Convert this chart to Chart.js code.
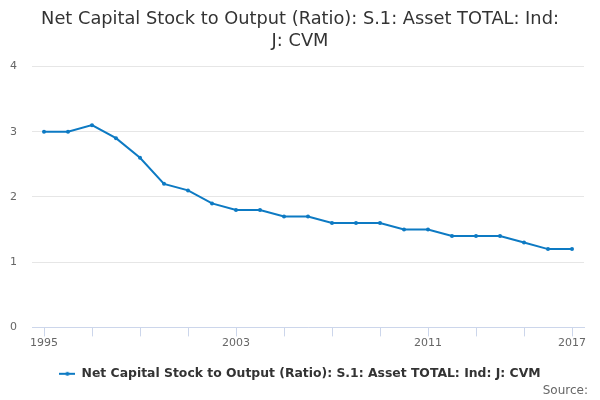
<!DOCTYPE html>
<html lang="en">
<head>
    <meta charset="UTF-8">
    <title>Net Capital Stock to Output</title>
    <script src="https://cdn.jsdelivr.net/npm/chart.js"></script>
    <style>
        body { margin: 0; background: #fff; }
        #wrap { width: 600px; height: 400px; }
    </style>
</head>
<body>
    <div id="wrap"><canvas id="myChart"></canvas></div>
    <script>
        const years = ['1995','1996','1997','1998','1999','2000','2001','2002','2003','2004','2005','2006',
                       '2007','2008','2009','2010','2011','2012','2013','2014','2015','2016','2017'];
        const ratio = [3.0, 3.0, 3.1, 2.9, 2.6, 2.2, 2.1, 1.9, 1.8, 1.8, 1.7, 1.7,
                       1.6, 1.6, 1.6, 1.5, 1.5, 1.4, 1.4, 1.4, 1.3, 1.2, 1.2];
        const shownYears = ['1995', '2003', '2011', '2017'];
        const yTicks = [0, 1, 2, 3, 4];
        const seriesName = 'Net Capital Stock to Output (Ratio): S.1: Asset TOTAL: Ind: J: CVM';
        const sourceText = 'Source:';

        const blue = '#0d7ac3';
        const font = 'DejaVu Sans';

        // little line-with-dot symbol for the legend
        const sym = document.createElement('canvas');
        sym.width = 16; sym.height = 6;
        const sc = sym.getContext('2d');
        sc.strokeStyle = blue; sc.lineWidth = 2;
        sc.beginPath(); sc.moveTo(0, 3); sc.lineTo(16, 3); sc.stroke();
        sc.fillStyle = blue;
        sc.beginPath(); sc.arc(8, 3, 2, 0, Math.PI * 2); sc.fill();

        // "Source:" credit in the bottom right corner
        const creditPlugin = {
            id: 'credit',
            afterDraw(chart) {
                const c = chart.ctx;
                c.save();
                c.font = '12px "' + font + '"';
                c.fillStyle = '#666666';
                c.textAlign = 'right';
                c.textBaseline = 'middle';
                c.fillText(sourceText, chart.width - 12, chart.height - 9);
                c.restore();
            }
        };

        const ctx = document.getElementById('myChart').getContext('2d');
        const myChart = new Chart(ctx, {
            type: 'line',
            data: {
                labels: years,
                datasets: [{
                    label: seriesName,
                    data: ratio,
                    borderColor: blue,
                    backgroundColor: blue,
                    borderWidth: 2,
                    pointRadius: 2,
                    pointBorderWidth: 0,
                    pointHoverRadius: 4,
                    tension: 0
                }]
            },
            options: {
                responsive: true,
                maintainAspectRatio: false,
                animation: false,
                layout: { padding: { left: 0, right: 0, top: 0, bottom: 10 } },
                plugins: {
                    title: {
                        display: true,
                        text: ['Net Capital Stock to Output (Ratio): S.1: Asset TOTAL: Ind:', 'J: CVM'],
                        color: '#333333',
                        font: { family: font, size: 17.8, weight: 'normal', lineHeight: 1.22 },
                        padding: { top: 9, bottom: 14 }
                    },
                    legend: {
                        position: 'bottom',
                        labels: {
                            color: '#333333',
                            font: { family: font, size: 12.4, weight: 'bold' },
                            usePointStyle: true,
                            pointStyleWidth: 16,
                            padding: 18,
                            generateLabels: function(chart) {
                                const items = Chart.defaults.plugins.legend.labels.generateLabels(chart);
                                items.forEach(it => { it.pointStyle = sym; });
                                return items;
                            }
                        }
                    },
                    tooltip: { enabled: true }
                },
                scales: {
                    x: {
                        offset: true,
                        border: { color: '#ccd6eb', width: 1 },
                        grid: {
                            drawOnChartArea: false,
                            drawTicks: true,
                            tickLength: 9,
                            color: '#ccd6eb',
                            offset: false
                        },
                        ticks: {
                            autoSkip: false,
                            maxRotation: 0,
                            color: '#666666',
                            font: { family: font, size: 11 },
                            padding: 0,
                            callback: function(value, index) {
                                if (index % 2 !== 0) return null;
                                const y = years[index];
                                return shownYears.includes(y) ? y : '';
                            }
                        }
                    },
                    y: {
                        min: 0,
                        max: 4,
                        border: { display: false },
                        grid: { color: '#e6e6e6', drawTicks: false },
                        afterBuildTicks: function(axis) {
                            axis.ticks = yTicks.map(v => ({ value: v }));
                        },
                        afterFit: function(axis) {
                            axis.width = 32;
                        },
                        ticks: {
                            color: '#666666',
                            font: { family: font, size: 11 },
                            padding: 15
                        }
                    },
                    // empty spacer on the right so the plot ends at the same place
                    yRight: {
                        position: 'right',
                        min: 0,
                        max: 4,
                        border: { display: false },
                        grid: { display: false },
                        ticks: { display: false },
                        afterFit: function(axis) {
                            axis.width = 16;
                        }
                    }
                }
            },
            plugins: [creditPlugin]
        });
    </script>
</body>
</html>
